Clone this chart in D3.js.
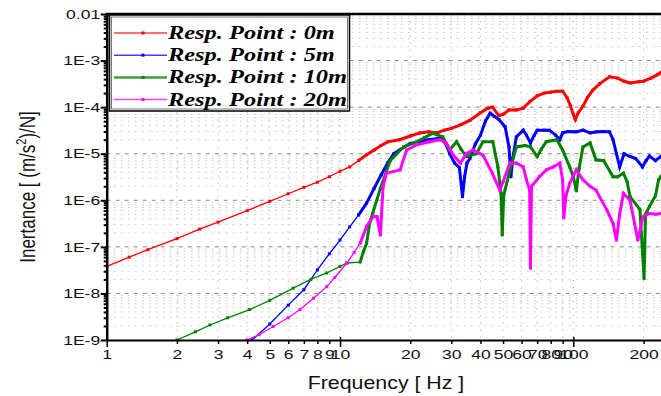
<!DOCTYPE html>
<html><head><meta charset="utf-8">
<script src="https://cdn.jsdelivr.net/npm/d3@7"></script>
<style>body{margin:0;background:#fff}svg{display:block}</style>
</head><body>
<svg id="c" width="661" height="396"></svg>
<script>
// ---------- data ----------
const seriesNames = ["Resp. Point : 0m","Resp. Point : 5m","Resp. Point : 10m","Resp. Point : 20m"];
const seriesColors = ["#ff0000","#0000ff","#008000","#ff00ff"];

const freq0 = [1,1.25,1.5,2,2.5,3,4,5,6,7,8,9,10,11,12,13,14,15,16,18,20,22,24,26,28,30,33,36,40,43,45,48,50,53,57,61,65,70,75,80,85,90,94,97,100,102,105,110,115,121,130,143,155,165,175,190,200,215,230,238];
const resp0 = [3.8e-8,6.0e-8,8.7e-8,1.5e-7,2.4e-7,3.4e-7,6.0e-7,9.5e-7,1.38e-6,1.9e-6,2.45e-6,3.2e-6,4.2e-6,5.2e-6,7.1e-6,9.5e-6,1.2e-5,1.5e-5,1.8e-5,2.0e-5,2.4e-5,2.8e-5,2.95e-5,2.8e-5,3.2e-5,3.5e-5,4.2e-5,5.2e-5,7.6e-5,9.5e-5,1.0e-4,6.6e-5,7.0e-5,8.7e-5,8.7e-5,9.5e-5,1.3e-4,1.75e-4,2.0e-4,2.1e-4,2.2e-4,2.2e-4,1.6e-4,1.1e-4,7.0e-5,5.4e-5,7.6e-5,1.05e-4,1.6e-4,2.3e-4,3.2e-4,4.5e-4,4.2e-4,3.6e-4,3.3e-4,3.5e-4,3.6e-4,4.2e-4,5.0e-4,5.6e-4];

const freq1 = [4.2,5,6,7,8,9,10,11,12,13,14,15,16,17,18,20,22,24,26,27,28.5,29.5,31,32.5,33.5,34.2,35,36,38,40,42,44,46,48,51,53,54,55,57,61,63,65.5,68,70,75,79,84,87.5,90,95,103,110,118,126,135,143,148,153,158,165,175,185,198,205,212,225,238];
const resp1 = [1.0e-9,2.2e-9,5.6e-9,1.2e-8,3.2e-8,7.1e-8,1.4e-7,2.7e-7,4.8e-7,8.7e-7,1.8e-6,3.5e-6,6.3e-6,1.0e-5,1.2e-5,1.66e-5,1.8e-5,2.0e-5,2.1e-5,2.2e-5,1.6e-5,1.0e-5,6.3e-6,5.0e-6,1.2e-6,3.2e-6,6.3e-6,7.9e-6,1.6e-5,2.5e-5,5.0e-5,7.4e-5,6.3e-5,5.4e-5,3.8e-5,1.4e-5,3.2e-6,7.9e-6,2.3e-5,3.2e-5,2.5e-5,1.7e-5,2.5e-5,3.2e-5,3.2e-5,3.2e-5,2.5e-5,2.0e-5,2.8e-5,3.0e-5,2.95e-5,3.2e-5,2.8e-5,2.95e-5,3.0e-5,2.95e-5,2.0e-5,1.0e-5,5.2e-6,1.0e-5,8.7e-6,7.9e-6,5.2e-6,7.1e-6,8.9e-6,7.1e-6,8.9e-6];

const freq2 = [2,2.4,2.77,3.3,4.1,5,6.3,7.5,8.77,10,10.7,12.2,12.6,13,13.4,13.8,14.9,16.4,18.7,21.3,23,25,27.6,29.5,31.6,33,34.8,38.4,41,45.2,47.5,49,49.6,50.3,53.5,57,62,65.5,70,73,76.5,85,90,96.5,100,103,106,110,118,125,135,148,155,164,170,175,193,201,204,212,225,232,238];
const resp2 = [1.0e-9,1.5e-9,2.1e-9,3.0e-9,4.5e-9,7.1e-9,1.3e-8,2.0e-8,2.75e-8,3.8e-8,4.5e-8,4.7e-8,7.9e-8,1.2e-7,3.2e-7,5.2e-7,1.8e-6,7.1e-6,1.4e-5,1.8e-5,2.2e-5,2.75e-5,2.3e-5,1.2e-5,1.8e-5,1.26e-5,8.7e-6,1.0e-5,1.8e-5,1.8e-5,5.2e-6,1.4e-6,1.8e-7,1.26e-6,4.5e-6,1.4e-5,1.5e-5,1.4e-5,8.7e-6,1.26e-5,1.8e-5,2.0e-5,1.2e-5,5.2e-6,3.2e-6,1.6e-6,5.0e-6,1.4e-5,1.7e-5,7.4e-6,7.1e-6,3.2e-6,3.2e-6,3.8e-6,2.5e-6,1.2e-6,6.3e-7,2.1e-8,5.0e-7,7.4e-7,1.26e-6,2.75e-6,3.3e-6];

const freq3 = [4,4.5,5.17,6,6.74,7.7,8.77,9.5,10.7,11.5,12.2,13,13.9,14.4,14.9,15.3,15.8,18.1,19.3,21.3,24.2,26.8,28.5,30.6,32.8,34.8,37.2,41,45,48.4,50,53.5,57,61,63,65,65.5,66.2,71.6,76.7,82,87.5,90,91,93,96.5,103,110,118,125,139,148,153,158,164,175,189,199,212,225,238];
const resp3 = [1.0e-9,1.3e-9,1.95e-9,3.0e-9,4.5e-9,7.9e-9,1.4e-8,2.2e-8,4.5e-8,7.6e-8,1.2e-7,2.75e-7,4.5e-7,4.5e-7,1.8e-7,2.0e-6,3.8e-6,4.5e-6,1.2e-5,1.55e-5,1.8e-5,2.0e-5,1.7e-5,9.3e-6,6.3e-6,1.0e-5,1.2e-5,9.3e-6,3.8e-6,1.66e-6,2.5e-6,6.3e-6,6.3e-6,5.2e-6,2.75e-6,1.66e-6,3.5e-8,2.0e-6,3.2e-6,4.5e-6,5.2e-6,6.3e-6,2.75e-6,4.2e-7,1.26e-6,2.3e-6,4.5e-6,2.75e-6,2.0e-6,1.66e-6,6.3e-7,3.2e-7,1.4e-7,5.0e-7,1.4e-6,1.0e-6,1.4e-7,4.5e-7,5.2e-7,5.0e-7,5.2e-7];

const xTicks = [1,2,3,4,5,6,7,8,9,10,20,30,40,50,60,70,80,90,100,200];
const xTickLabels = ["1","2","3","4","5","6","7","8","9","10","20","30","40","50","60","70","80","90","100","200"];
const yMajor = [1e-9,1e-8,1e-7,1e-6,1e-5,1e-4,1e-3,1e-2];
const yMajorLabels = ["1E-9","1E-8","1E-7","1E-6","1E-5","1E-4","1E-3","0.01"];
const xTitle = "Frequency [ Hz ]";

// ---------- drawing ----------
const svg = d3.select("#c");
const L = 106.7, R = 661, T = 14, B = 340;
const SX = 1.35; // horizontal stretch of the original's text
const x = d3.scaleLog().domain([1, 237.6]).range([L, R]);
const y = d3.scaleLog().domain([1e-9, 1e-2]).range([B, T]);

const xMinor = [];
for (let d = 1; d <= 100; d *= 10) for (let k = 2; k <= 9; k++) if (k*d <= 237) xMinor.push(k*d);
const yMinor = [];
for (let e = -9; e < -2; e++) for (let k = 2; k <= 9; k++) yMinor.push(k*Math.pow(10,e));

const grid = svg.append("g");
grid.selectAll(".vmin").data(xMinor).enter().append("line")
  .attr("x1", d=>x(d)).attr("x2", d=>x(d)).attr("y1", T).attr("y2", B)
  .attr("stroke", "#cfcfcf").attr("stroke-width", 1).attr("stroke-dasharray", "2,5");
grid.selectAll(".hmin").data(yMinor).enter().append("line")
  .attr("x1", L).attr("x2", R).attr("y1", d=>y(d)).attr("y2", d=>y(d))
  .attr("stroke", "#cfcfcf").attr("stroke-width", 1).attr("stroke-dasharray", "2,5");
grid.selectAll(".vmaj").data([10,100]).enter().append("line")
  .attr("x1", d=>x(d)).attr("x2", d=>x(d)).attr("y1", T).attr("y2", B)
  .attr("stroke", "#999").attr("stroke-width", 1).attr("stroke-dasharray", "1,6");
grid.selectAll(".hmaj").data(yMajor.slice(1,-1)).enter().append("line")
  .attr("x1", L).attr("x2", R).attr("y1", d=>y(d)).attr("y2", d=>y(d))
  .attr("stroke", "#8a8a8a").attr("stroke-width", 1).attr("stroke-dasharray", "4,5");

svg.append("clipPath").attr("id","clip").append("rect")
  .attr("x", L).attr("y", T).attr("width", R-L).attr("height", B-T);

const data = [[freq0,resp0],[freq1,resp1],[freq2,resp2],[freq3,resp3]].map(([f,v]) => f.map((ff,i)=>({f:ff,v:v[i]})));
const line = d3.line().x(d=>x(d.f)).y(d=>y(d.v));
const plot = svg.append("g").attr("clip-path","url(#clip)");
data.forEach((s,i) => {
  plot.append("path").attr("d", line(s)).attr("fill","none")
    .attr("stroke", seriesColors[i]).attr("stroke-width", 1.3);
  const hi = s.filter(d=>d.f >= 12);
  plot.append("path").attr("d", line(hi)).attr("fill","none")
    .attr("stroke", seriesColors[i]).attr("stroke-width", 3).attr("stroke-linejoin","miter");
  plot.selectAll(null).data(s).enter().append("rect")
    .attr("x", d=>x(d.f)-1.5).attr("y", d=>y(d.v)-1.5).attr("width",3).attr("height",3)
    .attr("fill", seriesColors[i]);
});

const font = "'Liberation Sans', Arial, sans-serif";
// x axis
const xAxis = svg.append("g").attr("transform", `translate(0,${B})`)
  .call(d3.axisBottom(x).tickValues(xTicks).tickFormat((d,i)=>xTickLabels[i]).tickSizeInner(4).tickSizeOuter(0).tickPadding(6));
xAxis.select(".domain").attr("stroke","#000").attr("stroke-width",2);
xAxis.selectAll(".tick line").attr("stroke","#000").attr("stroke-width",1.5)
  .attr("y1", d => (d===1||d===10||d===100) ? -3 : 0)
  .attr("y2", d => (d===1||d===10||d===100) ? 7 : 4);
xAxis.selectAll("text").attr("font-family", font).attr("font-size", 13).attr("fill", "#111")
  .attr("transform", `scale(${SX},1)`);

// y axis
const yAxis = svg.append("g").attr("transform", `translate(${L},0)`)
  .call(d3.axisLeft(y).tickValues(yMajor).tickFormat((d,i)=>yMajorLabels[i]).tickSizeInner(6).tickSizeOuter(0));
yAxis.select(".domain").attr("stroke","#000").attr("stroke-width",2.5);
yAxis.selectAll(".tick line").attr("stroke","#000").attr("stroke-width",2);
yAxis.selectAll("text").attr("font-family", font).attr("font-size", 13).attr("fill", "#111")
  .attr("x", -6.5/SX).attr("transform", `scale(${SX},1)`);
const yAxisMin = svg.append("g").attr("transform", `translate(${L},0)`)
  .call(d3.axisLeft(y).tickValues(yMinor).tickFormat("").tickSizeInner(3).tickSizeOuter(0));
yAxisMin.select(".domain").remove();
yAxisMin.selectAll(".tick line").attr("stroke","#000").attr("stroke-width",2);

// top border
svg.append("line").attr("x1", L-1).attr("x2", R).attr("y1", T).attr("y2", T)
  .attr("stroke","#000").attr("stroke-width",2.5);

// titles
svg.append("text").attr("transform", `translate(386,389) scale(1.22,1)`).attr("text-anchor","middle")
  .attr("font-family", font).attr("font-size", 17.5).attr("fill","#111").text(xTitle);
const yt = svg.append("text").attr("transform","translate(35,187) rotate(-90) scale(1,1.3)").attr("text-anchor","middle")
  .attr("font-family", font).attr("font-size", 17).attr("fill","#111");
yt.append("tspan").text("Inertance [ (m/s");
yt.append("tspan").attr("font-size", 11).attr("dy", "-0.6em").text("2");
yt.append("tspan").attr("dy", "0.4em").text(")/N]");

// legend
const lg = svg.append("g");
lg.append("rect").attr("x", 109.5).attr("y", 15).attr("width", 240).attr("height", 96)
  .attr("fill","#fff").attr("stroke","#000").attr("stroke-width",1.5);
lg.append("rect").attr("x", 111.5).attr("y", 17).attr("width", 236).attr("height", 92)
  .attr("fill","none").attr("stroke","#555").attr("stroke-width",0.8);
seriesNames.forEach((n,i) => {
  const yy = 33 + i*22.2;
  lg.append("line").attr("x1",114).attr("x2",167).attr("y1",yy).attr("y2",yy)
    .attr("stroke", seriesColors[i]).attr("stroke-width", i===2 ? 2.5 : 1.5).attr("opacity", 0.75);
  lg.append("rect").attr("x",141.5).attr("y",yy-1.5).attr("width",3).attr("height",3).attr("fill",seriesColors[i]);
  lg.append("text").attr("transform", `translate(168,${yy+6}) scale(1.32,1)`)
    .attr("font-family","'Liberation Serif','Times New Roman',serif")
    .attr("font-weight","bold").attr("font-style","italic").attr("font-size",18.5).attr("fill","#000")
    .text(n);
});
</script>
</body></html>
